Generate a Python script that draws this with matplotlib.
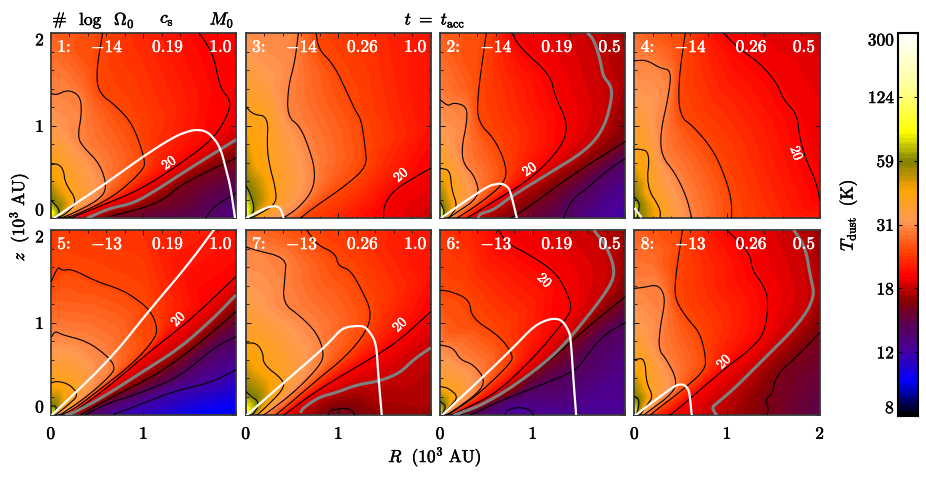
import numpy as np
import matplotlib
matplotlib.use("Agg")
import matplotlib.pyplot as plt
import matplotlib.tri as mtri
import matplotlib.patheffects as pe
from matplotlib.colors import LinearSegmentedColormap, FuncNorm

plt.rcParams['mathtext.fontset'] = 'cm'
plt.rcParams['font.family'] = ['cmr10', 'DejaVu Serif']
plt.rcParams['axes.formatter.use_mathtext'] = True

cbar_ticks = [8, 12, 18, 31, 59, 124, 300]
panel_order = [1, 3, 2, 4, 5, 7, 6, 8]
log_omega = {1: -14, 2: -14, 3: -14, 4: -14, 5: -13, 6: -13, 7: -13, 8: -13}
sound_speed = {1: '0.19', 2: '0.19', 3: '0.26', 4: '0.26', 5: '0.19', 6: '0.19', 7: '0.26', 8: '0.26'}
mass = {1: '1.0', 2: '0.5', 3: '1.0', 4: '0.5', 5: '1.0', 6: '0.5', 7: '1.0', 8: '0.5'}

# contours: (temperature level, [(R, z), ...]) in 10^3 AU; level 18 is the thick grey one
panel1_contours = [
    (20, [(1.6,2.0),(1.66,1.92),(1.76,1.75),(1.83,1.40),(1.94,1.28),(1.92,1.13),(1.76,.86),(1.40,.59),(.97,.31),(.53,.13),(.21,0)]),
    (25, [(.56,2),(.49,1.57),(.52,1.35),(.71,1.21),(.89,1.01),(1.02,.63),(1.0,.52),(.68,.23),(.28,.04),(.14,0)]),
    (30, [(0,1.35),(.06,1.33),(.19,1.39),(.32,1.32),(.335,1.13),(.29,.88),(.35,.77),(.53,.59),(.61,.34),(.53,.2),(.17,.02),(.08,0)]),
    (40, [(0,.58),(.08,.59),(.14,.52),(.155,.38),(.29,.18),(.17,.05),(.065,0)]),
    (60, [(0,.2),(.1,.09),(.08,.02)]),
    (18, [(.39,0),(.64,.11),(.89,.16),(1.15,.31),(1.47,.52),(1.97,.83),(2,.85)]),
    (16, [(.64,.02),(1.0,.11),(1.22,.2),(1.43,.38),(2,.65)]),
    (14, [(1.67,0),(1.76,.13),(2,.27)]),
]
panel1_white = [(.03,0),(.6,.38),(1.0,.67),(1.33,.88),(1.5,.945),(1.58,.955),(1.66,.945),(1.73,.9),(1.83,.77),(1.9,.5),(1.94,.34),(1.99,0)]
panel1_anchors = [(0,0,110),(.02,.05,90),(0,2,27),(1,2,22.5),(2,2,20.5),(2,1.0,19.3),(2,.4,14.5),(2,.1,13),(2,0,12.5),(1,0,14.8),(.5,0,17),(.1,1.0,32),(.05,.4,45)]
panel1_label = (1.28, .59, 35)

panel3_contours = [
    (20, [(2,.54),(1.96,.52),(1.6,.31),(1.49,.13),(1.49,0)]),
    (25, [(.76,2),(.79,1.82),(.95,1.66),(1.1,1.35),(1.18,1.17),(1.25,1.06),(1.29,.77),(1.31,.56),(1.09,.36),(.70,.09),(.59,0)]),
    (30, [(.57,2),(.53,1.68),(.46,1.42),(.45,1.10),(.59,.99),(.69,.74),(.75,.52),(.73,.31),(.59,.13),(.44,.02),(.38,0)]),
    (40, [(0,1.21),(.08,1.12),(.245,1.10),(.23,.77),(.26,.56),(.32,.34),(.335,.16),(.155,.05),(.05,0)]),
    (60, [(0,.36),(.05,.27),(.1,.1),(.05,.01)]),
]
panel3_white = [(0,0),(.23,.12),(.3,.13),(.335,.13),(.37,.11),(.39,.07),(.41,0)]
panel3_anchors = [(0,0,120),(.02,.1,85),(0,2,31),(1,2,24),(1.5,2,22.5),(2,2,21),(2,1,21),(2,.25,19),(2,0,18.3),(1,0,22.5),(.1,.6,44),(.25,1.5,33)]
panel3_label = (1.68, .46, 40)

panel2_contours = [
    (20, [(.775,2),(.865,1.84),(1.19,1.55),(1.24,1.32),(1.37,1.05),(1.35,.85),(1.19,.63),(.94,.40),(.61,.2),(.29,0)]),
    (25, [(.5,2),(.4,1.28),(.415,1.03),(.595,.85),(.72,.56),(.70,.38),(.43,.16),(.18,0)]),
    (30, [(0,1.28),(.09,1.21),(.145,1.25),(.29,1.21),(.29,1.03),(.235,.77),(.25,.59),(.38,.45),(.43,.23),(.145,.04),(.09,0)]),
    (40, [(0,.54),(.11,.52),(.125,.31),(.19,.13),(.11,.02),(.08,0)]),
    (60, [(0,.18),(.05,.08),(.03,0)]),
    (18, [(.41,0),(.43,.05),(.58,.09),(.76,.23),(1.15,.47),(1.59,.74),(1.78,.99),(1.86,1.32),(1.84,1.44),(1.76,1.53),(1.73,1.71),(1.66,1.93),(1.59,2)]),
    (16, [(.76,0),(.97,.13),(1.4,.45),(2,.83)]),
    (14, [(1.33,0),(1.42,.2),(1.585,.32),(1.77,.49),(2,.65)]),
]
panel2_white = [(.02,.01),(.5,.34),(.6,.37),(.67,.375),(.73,.34),(.76,.29),(.83,0)]
panel2_anchors = [(0,0,110),(0,2,27),(1.2,2,19.2),(2,2,17.2),(2,1.5,17.5),(2,.3,12.3),(2,0,12),(1.7,0,12.3),(1.0,0,15),(.1,.9,32),(.06,.4,45),(.02,.1,85)]
panel2_label = (.97, .52, 35)

panel4_contours = [
    (20, [(.96,2),(1.14,1.82),(1.34,1.69),(1.54,1.46),(1.61,1.28),(1.76,1.12),(1.78,.88),(1.87,.59),(1.94,.45),(1.99,.27),(2,.2)]),
    (25, [(.55,2),(.475,1.46),(.49,1.1),(.64,.99),(.85,.74),(.98,.45),(1.05,.2),(1.05,0)]),
    (30, [(0,1.70),(.13,1.71),(.28,1.62),(.40,1.60),(.37,1.32),(.28,.92),(.295,.67),(.44,.49),(.565,.23),(.62,0)]),
    (40, [(0,.74),(.04,.75),(.17,.72),(.13,.34),(.28,.11),(.28,0)]),
    (60, [(0,.23),(.06,.16),(.04,.05),(.03,0)]),
]
panel4_white = [(.01,.1),(.04,.06),(.07,.02)]
panel4_anchors = [(0,0,110),(.02,.1,80),(0,2,28),(2,2,18.5),(1.5,2,19),(2,1,19.6),(2,0,21.5),(1.5,0,23),(.1,.4,46),(.15,1.2,33)]
panel4_label = (1.74, .70, -70)

panel5_contours = [
    (20, [(2,1.5),(1.76,1.27),(1.47,1.0),(1.07,.69),(.71,.38),(.32,.08),(.17,0)]),
    (25, [(0,1.43),(.08,1.61),(.12,1.56),(.23,1.58),(.48,1.45),(.75,1.36),(.89,1.28),(1.07,1.14),(1.15,.96),(1.13,.83),(.89,.56),(.53,.28),(.245,.06),(.1,0)]),
    (30, [(.01,.85),(.05,.91),(.12,.87),(.39,.8),(.6,.65),(.695,.53),(.66,.44),(.39,.2),(.14,.03),(.09,0)]),
    (40, [(0,.35),(.08,.37),(.21,.33),(.3,.22),(.21,.13),(.05,0)]),
    (60, [(0,.1),(.065,.1),(.05,.03)]),
    (18, [(2,1.3),(1.76,1.05),(1.4,.73),(1.0,.475),(.57,.2),(.245,.025),(.155,0)]),
    (16, [(2,1.12),(1.61,.78),(1.22,.49),(.97,.35),(.53,.13),(.32,0)]),
    (14, [(2,.85),(1.76,.73),(1.4,.42),(.97,.24),(.57,.115),(.37,0)]),
    (12, [(2,.49),(1.72,.35),(1.33,.26),(1.0,.13),(.68,.01)]),
]
panel5_white = [(.01,0),(.64,.6),(1.07,1.14),(1.47,1.61),(1.76,2)]
panel5_anchors = [(0,0,110),(.02,.04,85),(0,2,24),(1,2,23),(2,2,21.3),(2,.2,10.5),(2,0,10),(1.7,0,9.8),(1.0,0,11.3),(.5,.6,30.5),(.1,1.2,27)]
panel5_label = (1.38, 1.03, 45)

panel7_contours = [
    (20, [(2,1.12),(1.67,.82),(1.45,.67),(1.09,.46),(.73,.24),(.41,0)]),
    (25, [(.66,2),(.77,1.84),(.97,1.75),(1.0,1.61),(1.13,1.57),(1.25,1.36),(1.36,1.12),(1.31,.91),(1.09,.64),(.77,.38),(.48,.13),(.32,0)]),
    (30, [(0,1.82),(.08,1.79),(.44,1.70),(.425,1.5),(.4,1.21),(.59,1.07),(.77,.89),(.85,.67),(.8,.53),(.515,.24),(.23,.025),(.19,0)]),
    (40, [(0,.78),(.12,.78),(.19,.67),(.19,.55),(.41,.38),(.41,.28),(.19,.06),(.12,0)]),
    (60, [(0,.26),(.065,.2),(.14,.15),(.12,.06),(.065,0)]),
    (18, [(.59,.025),(.62,.08),(.8,.2),(.965,.24),(1.2,.33),(1.45,.37),(1.67,.46),(1.81,.6),(2,.73)]),
    (16, [(.89,0),(.91,.06),(1.13,.08),(1.18,0)]),
]
panel7_white = [(.01,0),(.41,.35),(.86,.74),(1.02,.92),(1.1,.955),(1.2,.965),(1.28,.96),(1.34,.9),(1.41,.78),(1.43,.46),(1.47,0)]
panel7_anchors = [(0,0,110),(.02,.05,90),(0,2,28),(1.3,2,23),(2,2,21.3),(2,1.5,21),(2,0,17.2),(1.5,0,17),(.55,0,18.2),(.1,.5,45),(.15,1.2,33)]
panel7_label = (1.67, .97, 45)

panel6_contours = [
    (20, [(.63,2),(.72,1.86),(.97,1.73),(1.24,1.55),(1.35,1.37),(1.43,1.16),(1.33,1.0),(1.01,.62),(.61,.24),(.25,.06),(.11,0)]),
    (25, [(0,1.35),(.11,1.34),(.32,1.25),(.34,1.05),(.65,.85),(.79,.65),(.76,.56),(.43,.24),(.145,.04),(.07,0)]),
    (30, [(0,.76),(.145,.73),(.215,.6),(.36,.55),(.49,.385),(.415,.24),(.11,.025),(.05,0)]),
    (40, [(0,.31),(.09,.295),(.2,.2),(.11,.1),(.03,.01)]),
    (60, [(0,.15),(.07,.1),(.02,.01)]),
    (18, [(1.66,2),(1.8,1.82),(1.89,1.57),(1.84,1.39),(1.51,.96),(1.225,.64),(.79,.31),(.43,.1),(.145,0)]),
    (16, [(2,1.28),(1.69,1.03),(1.44,.82),(1.15,.56),(.61,.2),(.22,0)]),
    (14, [(2,1.0),(1.77,.87),(1.585,.65),(1.48,.49),(1.15,.35),(.685,.17),(.32,0)]),
    (12.3, [(.7,0),(.72,.06),(.85,.09),(.97,.06),(1.01,0)]),
]
panel6_white = [(.02,0),(.47,.42),(.79,.73),(1.01,.96),(1.15,1.03),(1.25,1.045),(1.32,1.02),(1.38,.93),(1.41,.85),(1.44,.385),(1.47,0)]
panel6_anchors = [(0,0,110),(0,2,23.5),(.3,2,22.5),(1.15,2,19.3),(2,2,16.8),(2,1.6,17),(2,.5,12.7),(2,0,12.3),(1.5,0,12.3),(.1,.9,26.5)]
panel6_label = (1.12, 1.45, -45)

panel8_contours = [
    (20, [(1.0,2),(1.25,1.75),(1.27,1.57),(1.39,1.41),(1.45,1.25),(1.41,.89),(1.25,.71),(.96,.49),(.67,.24),(.42,.025),(.37,0)]),
    (25, [(.52,2),(.44,1.46),(.44,1.25),(.565,1.05),(.71,.89),(.77,.64),(.765,.49),(.53,.28),(.24,.06),(.17,0)]),
    (30, [(0,1.37),(.1,1.38),(.24,1.41),(.31,1.34),(.33,1.21),(.28,.96),(.26,.71),(.35,.6),(.46,.385),(.42,.24),(.13,.025),(.1,0)]),
    (40, [(0,.6),(.115,.62),(.13,.35),(.205,.205),(.13,.1),(.06,0)]),
    (60, [(0,.205),(.055,.17),(.04,.06),(.02,0)]),
    (18, [(1.72,2),(1.845,1.82),(1.9,1.5),(1.95,1.28),(1.79,1.0),(1.39,.6),(1.07,.28),(.89,.13),(.835,.08),(.89,0)]),
    (16, [(2,.89),(1.79,.67),(1.52,.42),(1.5,.24),(1.41,.17),(1.45,.08),(1.43,0)]),
]
panel8_white = [(.01,0),(.42,.31),(.49,.335),(.54,.33),(.585,.28),(.6,.2),(.62,0)]
panel8_anchors = [(0,0,110),(.02,.05,85),(0,2,27),(.2,1.7,28),(1.35,2,19.3),(2,2,17),(2,1.3,17.5),(2,.4,15),(2,0,14.5),(.1,.9,33)]
panel8_label = (.97, .57, 45)

panels = {
    1: (panel1_contours, panel1_white, panel1_anchors, panel1_label),
    2: (panel2_contours, panel2_white, panel2_anchors, panel2_label),
    3: (panel3_contours, panel3_white, panel3_anchors, panel3_label),
    4: (panel4_contours, panel4_white, panel4_anchors, panel4_label),
    5: (panel5_contours, panel5_white, panel5_anchors, panel5_label),
    6: (panel6_contours, panel6_white, panel6_anchors, panel6_label),
    7: (panel7_contours, panel7_white, panel7_anchors, panel7_label),
    8: (panel8_contours, panel8_white, panel8_anchors, panel8_label),
}

# colour scale
log_ticks = np.log(np.array(cbar_ticks, float))
tick_pos = np.linspace(0, 1, len(cbar_ticks))
def fwd(t):
    return np.interp(np.log(np.clip(t, 1e-3, None)), log_ticks, tick_pos)
def inv(p):
    return np.exp(np.interp(p, tick_pos, log_ticks))
norm = FuncNorm((fwd, inv), vmin=8, vmax=300)
cmap = LinearSegmentedColormap.from_list('tdust', [
    (0.0, '#000000'), (0.087, '#0000ff'), (0.174, '#4b0096'), (0.24, '#5a0050'),
    (0.30, '#8b0000'), (0.365, '#ff0000'), (0.43, '#ff4400'), (0.51, '#ff9955'),
    (0.59, '#ffa500'), (0.665, '#808000'), (0.745, '#ffff00'), (0.78, '#ffff30'),
    (0.87, '#ffffa0'), (1.0, '#ffffff')], N=110)

def chaikin(line, n):
    a = np.array(line, float)
    for _ in range(n):
        q = .75 * a[:-1] + .25 * a[1:]
        r = .25 * a[:-1] + .75 * a[1:]
        m = np.empty((2 * len(q), 2))
        m[0::2], m[1::2] = q, r
        a = np.vstack([a[0], m, a[-1]])
    return a

def densify(a, step=0.03):
    s = np.r_[0, np.cumsum(np.hypot(*np.diff(a, axis=0).T))]
    n = max(int(s[-1] / step), 2)
    u = np.linspace(0, s[-1], n)
    return np.interp(u, s, a[:, 0]), np.interp(u, s, a[:, 1])

def field(contours, anchors):
    xs, ys, ps = [], [], []
    for lev, line in contours:
        x, y = densify(chaikin(line, 2))
        xs.append(x); ys.append(y); ps.append(fwd(np.full(x.shape, lev)))
    an = np.array(anchors, float)
    xs.append(an[:, 0]); ys.append(an[:, 1]); ps.append(fwd(an[:, 2]))
    x, y, p = map(np.concatenate, (xs, ys, ps))
    _, idx = np.unique(np.round(np.c_[x, y], 4), axis=0, return_index=True)
    tri = mtri.Triangulation(x[idx], y[idx])
    f = mtri.LinearTriInterpolator(tri, p[idx])
    g = np.linspace(0, 2, 221)
    X, Y = np.meshgrid(g, g)
    Z = np.ma.filled(f(X, Y), np.nan)
    Z = np.where(np.isnan(Z), np.nanmean(Z), Z)
    k = np.array([1, 2, 3, 4, 3, 2, 1], float); k /= k.sum()
    P = np.pad(Z, 3, mode='edge')
    P = np.apply_along_axis(lambda v: np.convolve(v, k, 'same'), 0, P)
    P = np.apply_along_axis(lambda v: np.convolve(v, k, 'same'), 1, P)
    return X, Y, inv(P[3:-3, 3:-3])

W, H = 926, 478
fig = plt.figure(figsize=(W / 100, H / 100), dpi=100)
lefts = [50.7, 245.6, 440.0, 634.3]
tops = [33.0, 230.0]
size = 185.3
txt = 12.5
thick_k = [pe.withStroke(linewidth=.35, foreground='black')]
thick_w = [pe.withStroke(linewidth=.35, foreground='white')]

for i, num in enumerate(panel_order):
    row, col = i // 4, i % 4
    ax = fig.add_axes([lefts[col] / W, 1 - (tops[row] + size) / H, size / W, size / H])
    contours, white, anchors, label = panels[num]
    X, Y, T = field(contours, anchors)
    ax.pcolormesh(X, Y, T, cmap=cmap, norm=norm, shading='gouraud', rasterized=True)
    for lev, line in contours:
        a = chaikin(line, 2)
        if lev == 18:
            ax.plot(a[:, 0], a[:, 1], color='#808080', lw=2.2, zorder=4, solid_capstyle='butt')
        else:
            ax.plot(a[:, 0], a[:, 1], color='black', lw=0.8, zorder=3)
    w = chaikin(white, 3)
    ax.plot(w[:, 0], w[:, 1], color='white', lw=1.6, zorder=5)
    ax.text(label[0], label[1], '20', color='white', fontsize=10, rotation=label[2],
            ha='center', va='center', zorder=6, rotation_mode='anchor', path_effects=thick_w)
    ax.set_xlim(0, 2); ax.set_ylim(0, 2)
    ax.set_xticks([0, 1, 2]); ax.set_yticks([0, 1, 2])
    ax.set_xticks(np.arange(0, 2.01, .2), minor=True)
    ax.set_yticks(np.arange(0, 2.01, .2), minor=True)
    ax.tick_params(which='major', direction='in', length=3.5, width=.7, top=True, right=True, color='#111111')
    ax.tick_params(which='minor', direction='in', length=1.8, width=.6, top=True, right=True, color='#111111')
    ax.tick_params(axis='x', labelsize=txt, pad=8)
    ax.tick_params(axis='y', labelsize=txt, pad=5)
    ax.set_xticklabels(['0', '1', '2'] if (row == 1 and col == 3) else (['0', '1', ''] if row == 1 else []))
    ax.set_yticklabels(['0', '1', '2'] if col == 0 else [])
    if col == 0:
        labs = ax.get_yticklabels()
        labs[0].set_va('bottom'); labs[2].set_va('top')
    for lab in ax.get_xticklabels() + ax.get_yticklabels():
        lab.set_path_effects(thick_k)
    for s in ax.spines.values():
        s.set_linewidth(1.3); s.set_color('#3a3a3a')
    kw = dict(transform=ax.transAxes, color='white', fontsize=txt, va='center', zorder=7, path_effects=thick_w)
    ax.text(.035, .924, f'{num}:', ha='left', **kw)
    ax.text(.305, .924, f'$-{abs(log_omega[num])}$', ha='center', **kw)
    ax.text(.63, .924, sound_speed[num], ha='center', **kw)
    ax.text(.915, .924, mass[num], ha='center', **kw)

def figtext(px, py, s, **kw):
    fig.text(px / W, 1 - py / H, s, ha='center', va='center', fontsize=txt, color='black', path_effects=thick_k, **kw)

figtext(60, 20, r'$\#$')
figtext(107, 20, r'$\log\ \ \Omega_0$')
figtext(167, 20, r'$c_{\rm s}$')
figtext(222, 20, r'$M_0$')
figtext(435, 20, r'$t\ =\ t_{\rm acc}$')
figtext(19, 217, r'$z\ \ (10^3\ {\rm AU})$', rotation=90)
figtext(435, 457, r'$R\ \ (10^3\ {\rm AU})$')

cax = fig.add_axes([898 / W, 1 - 416 / H, 20 / W, 383 / H])
edges = inv(np.linspace(0, 1, 301))
cax.pcolormesh([0, 1], edges, ((edges[:-1] + edges[1:]) / 2)[:, None], cmap=cmap, norm=norm)
cax.set_yscale('function', functions=(fwd, inv))
cax.set_ylim(8, 300); cax.set_xlim(0, 1)
cax.set_xticks([])
cax.set_yticks(cbar_ticks)
cax.set_yticks([], minor=True)
cax.set_yticklabels([str(t) for t in cbar_ticks])
cax.tick_params(axis='y', direction='in', length=3, width=.8, left=True, right=True, labelsize=txt, pad=3)
clabs = cax.get_yticklabels()
clabs[0].set_va('bottom'); clabs[-1].set_va('top')
for lab in clabs:
    lab.set_path_effects(thick_k)
for s in cax.spines.values():
    s.set_linewidth(1.5); s.set_color('black')
figtext(848, 215, r'$T_{\rm dust}\ \ ({\rm K})$', rotation=90)

fig.savefig('out.png', dpi=100)
